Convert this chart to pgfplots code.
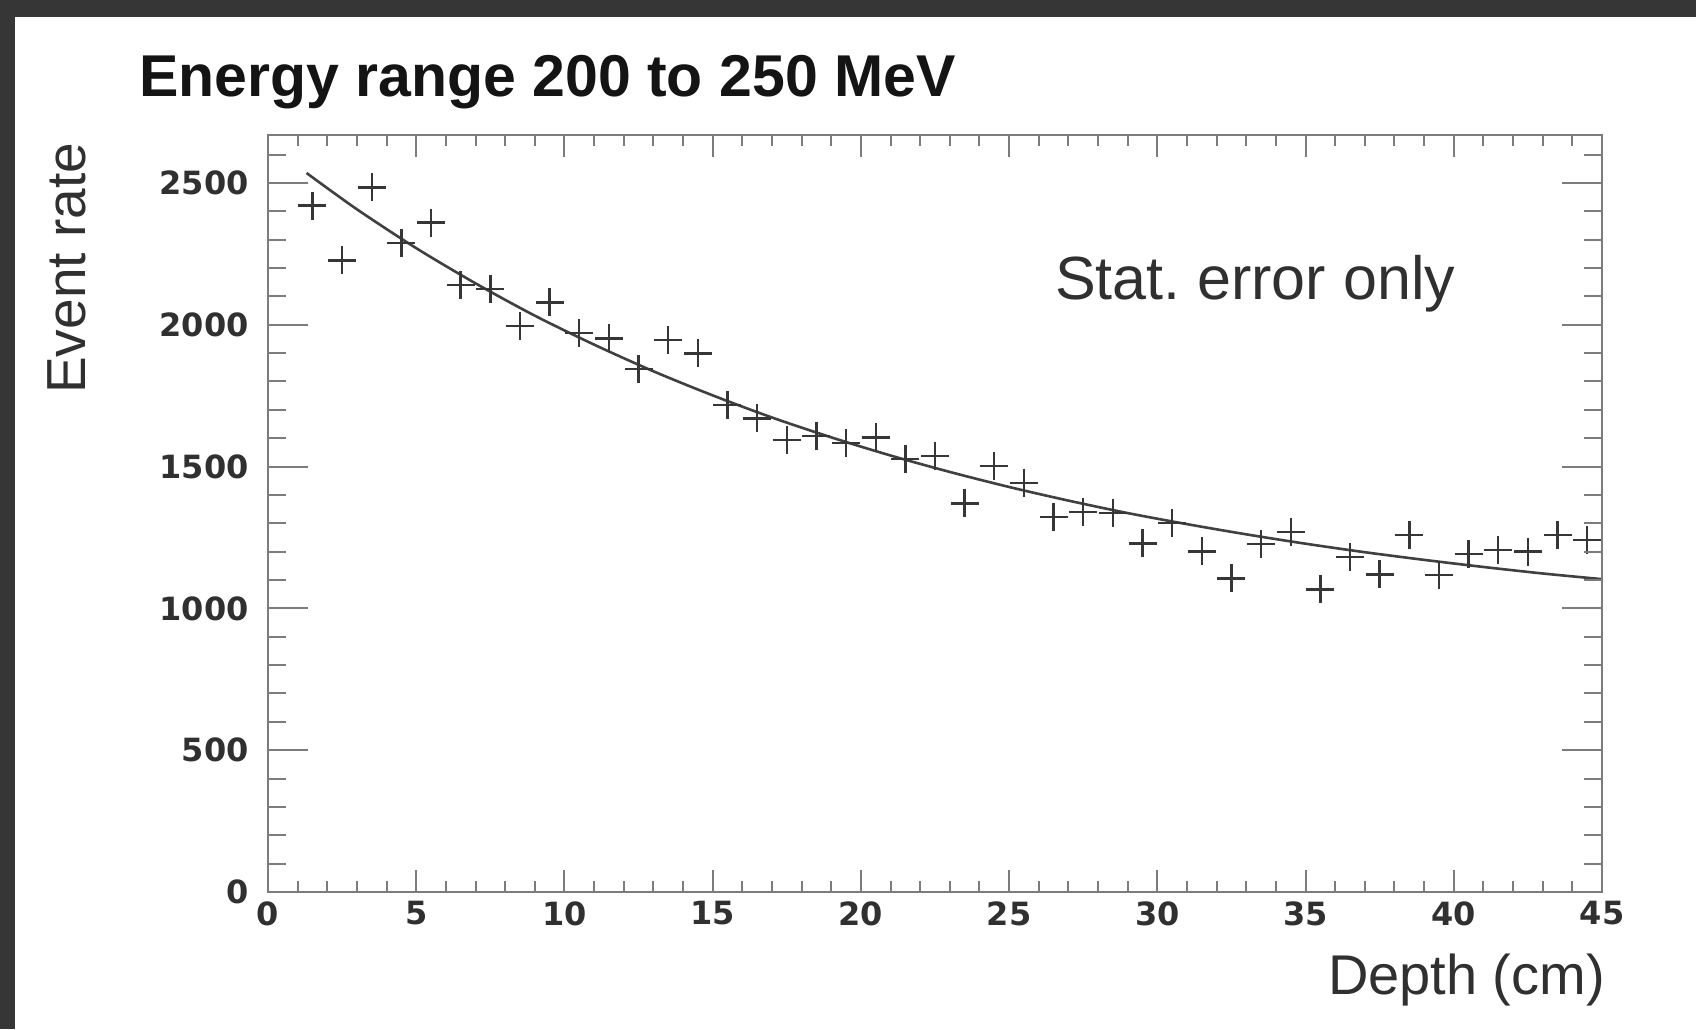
\documentclass[border=0pt]{standalone}
\usepackage{pgfplots}
\pgfplotsset{compat=1.18}
\usepackage{fontspec}
\setmainfont{Liberation Sans}
\newfontfamily\tickfont{DejaVu Sans}
\definecolor{bgdark}{HTML}{363636}
\definecolor{axgray}{HTML}{7C7C7C}
\definecolor{txt}{HTML}{303030}
\definecolor{mk}{HTML}{363636}
\definecolor{fitc}{HTML}{404040}

\pgfplotstableread{
x y
1.5 2420
2.5 2227
3.5 2484
4.5 2288
5.5 2360
6.5 2140
7.5 2126
8.5 1995
9.5 2079
10.5 1971
11.5 1952
12.5 1844
13.5 1946
14.5 1899
15.5 1717
16.5 1670
17.5 1594
18.5 1608
19.5 1582
20.5 1603
21.5 1526
22.5 1537
23.5 1370
24.5 1502
25.5 1443
26.5 1322
27.5 1340
28.5 1337
29.5 1229
30.5 1300
31.5 1201
32.5 1106
33.5 1226
34.5 1270
35.5 1067
36.5 1182
37.5 1120
38.5 1259
39.5 1118
40.5 1191
41.5 1206
42.5 1200
43.5 1259
44.5 1241
}\datatable

\pgfplotstableread{
x y
1.3 2535
3 2407
5 2270
7 2146
9 2032
11 1930
13 1836
15 1751
17 1673
19 1603
21 1539
23 1481
25 1428
27 1380
29 1336
31 1297
33 1261
35 1228
37 1198
39 1171
41 1146
43 1123
45 1103
}\fittable

\begin{document}
\begin{tikzpicture}
\fill[bgdark] (0,0) rectangle (848pt,514.5pt);
\fill[white] (7.5pt,0) rectangle (848pt,506pt);
\pgfplotsset{common/.style={
  scale only axis, width=667pt, height=378.5pt,
  at={(134pt,68.5pt)}, anchor=south west,
  xmin=0, xmax=45, ymin=0, ymax=2669,
  tick align=inside,
  axis line style={axgray, line width=1.3pt},
  every tick/.style={axgray, line width=1pt},
  minor tick num=4,
  scaled ticks=false,
  tick label style={font=\tickfont\bfseries\fontsize{16}{19}\selectfont, text=txt},
  /pgf/number format/assume math mode=true,
  /pgf/number format/1000 sep={},
}}
\begin{axis}[common,
  xtick={0,5,...,45}, ytick=\empty,
  major tick length=11pt, minor tick length=5.5pt,
  xticklabel style={inner sep=0pt, anchor=north, yshift=-4.5pt}]
  \addplot[only marks, mark=+, mark size=7pt, mk, line width=1.2pt] table[x=x,y=y] {\datatable};
  \addplot[smooth, line width=1.3pt, fitc, no marks] table[x=x,y=y] {\fittable};
\end{axis}
\begin{axis}[common,
  ytick={0,500,...,3000}, xtick=\empty,
  major tick length=20pt, minor tick length=9pt,
  yticklabel style={inner sep=0pt, anchor=east, xshift=-9.5pt}]
\end{axis}
\node[anchor=base west, font=\bfseries\fontsize{29.5}{32}\selectfont, text=black!92] at (66pt,466pt) {Energy range 200 to 250 MeV};
\node[rotate=90, anchor=base east, font=\fontsize{27.5}{30}\selectfont, text=txt] at (42.5pt,446.5pt) {Event rate};
\node[anchor=base west, font=\fontsize{30.5}{33}\selectfont, text=txt] at (524pt,364.5pt) {Stat.\ error only};
\node[anchor=base east, font=\fontsize{28}{30}\selectfont, text=txt] at (806pt,17.5pt) {Depth (cm)};
\pgfresetboundingbox
\useasboundingbox (0,0) rectangle (848pt,514.5pt);
\end{tikzpicture}
\end{document}
